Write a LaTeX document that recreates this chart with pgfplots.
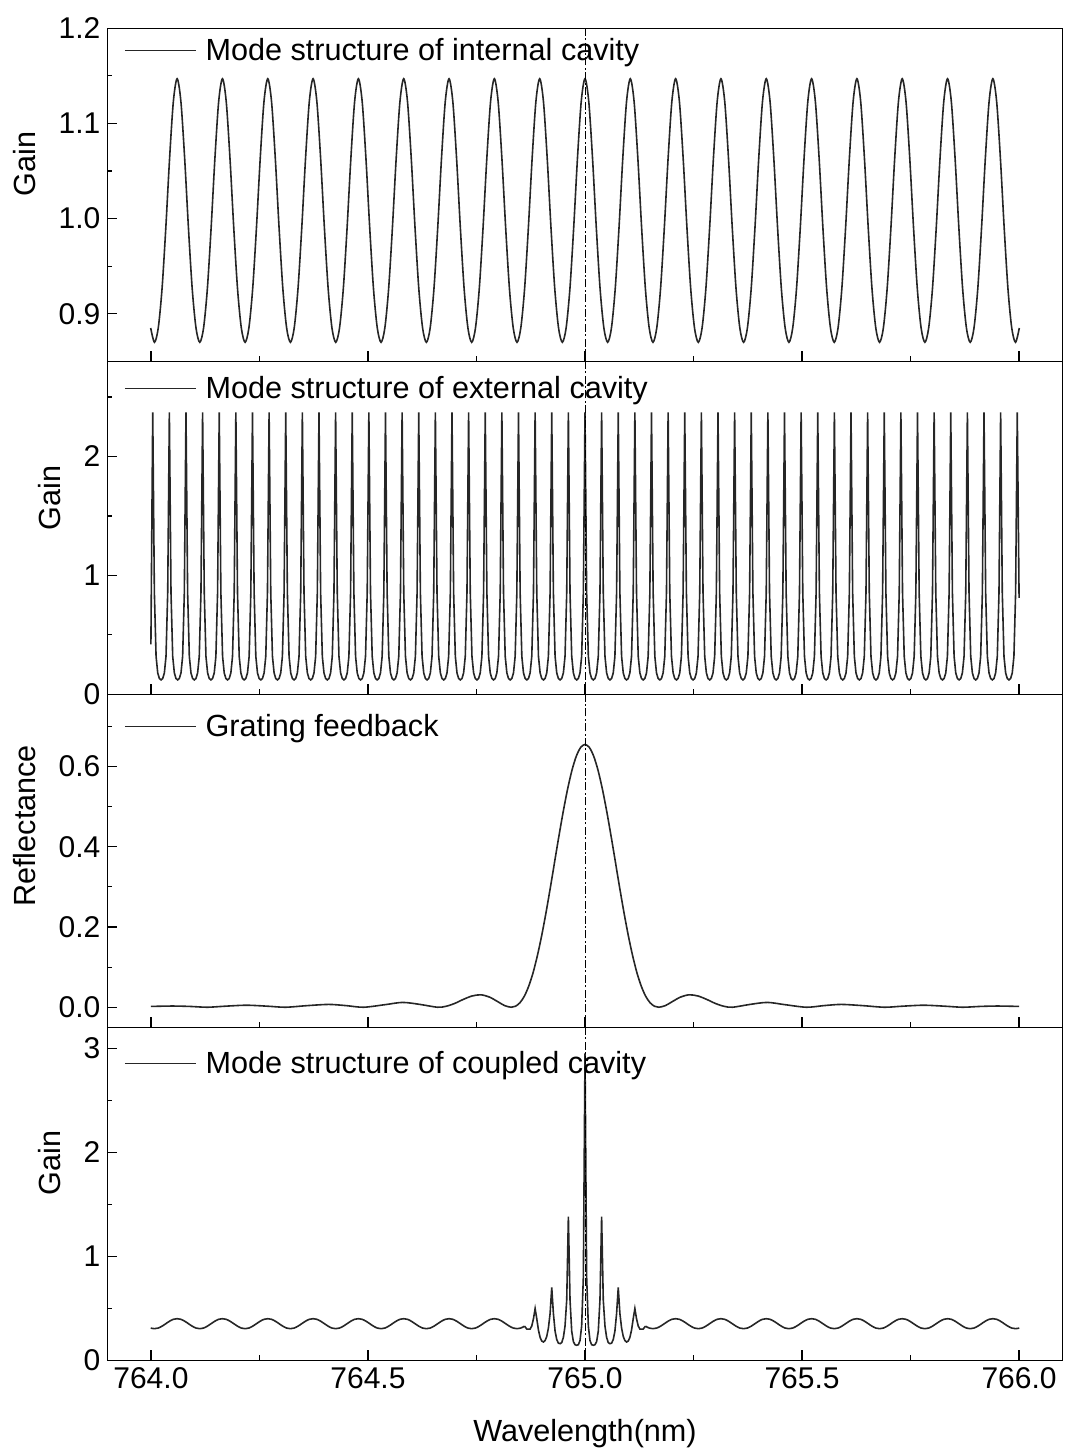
\documentclass[border=0pt]{standalone}
\usepackage{fontspec}
\setmainfont{Liberation Sans}
\usepackage{pgfplots}
\usepackage{pgfplotstable}
\pgfplotsset{compat=1.18}

% x, internal cavity gain (g1), coupled-cavity baseline (g4)
\pgfplotstableread{
x g1 g4
763.9995 0.885 0.310
764.0082 0.870 0.304
764.0169 0.885 0.310
764.0256 0.926 0.328
764.0343 0.990 0.352
764.0430 1.063 0.376
764.0517 1.123 0.394
764.0604 1.147 0.400
764.0691 1.123 0.394
764.0778 1.063 0.376
764.0865 0.990 0.352
764.0952 0.926 0.328
764.1039 0.885 0.310
764.1126 0.870 0.304
764.1213 0.885 0.310
764.1300 0.926 0.328
764.1387 0.990 0.352
764.1474 1.063 0.376
764.1561 1.123 0.394
764.1648 1.147 0.400
764.1735 1.123 0.394
764.1822 1.063 0.376
764.1909 0.990 0.352
764.1996 0.926 0.328
764.2083 0.885 0.310
764.2170 0.870 0.304
764.2257 0.885 0.310
764.2344 0.926 0.328
764.2431 0.990 0.352
764.2518 1.063 0.376
764.2605 1.123 0.394
764.2692 1.147 0.400
764.2779 1.123 0.394
764.2866 1.063 0.376
764.2953 0.990 0.352
764.3040 0.926 0.328
764.3127 0.885 0.310
764.3214 0.870 0.304
764.3301 0.885 0.310
764.3388 0.926 0.328
764.3475 0.990 0.352
764.3562 1.063 0.376
764.3649 1.123 0.394
764.3736 1.147 0.400
764.3823 1.123 0.394
764.3910 1.063 0.376
764.3997 0.990 0.352
764.4084 0.926 0.328
764.4171 0.885 0.310
764.4258 0.870 0.304
764.4345 0.885 0.310
764.4432 0.926 0.328
764.4519 0.990 0.352
764.4606 1.063 0.376
764.4693 1.123 0.394
764.4780 1.147 0.400
764.4867 1.123 0.394
764.4954 1.063 0.376
764.5041 0.990 0.352
764.5128 0.926 0.328
764.5215 0.885 0.310
764.5302 0.870 0.304
764.5389 0.885 0.310
764.5476 0.926 0.328
764.5563 0.990 0.352
764.5650 1.063 0.376
764.5737 1.123 0.394
764.5824 1.147 0.400
764.5911 1.123 0.394
764.5998 1.063 0.376
764.6085 0.990 0.352
764.6172 0.926 0.328
764.6259 0.885 0.310
764.6346 0.870 0.304
764.6433 0.885 0.310
764.6520 0.926 0.328
764.6607 0.990 0.352
764.6694 1.063 0.376
764.6781 1.123 0.394
764.6868 1.147 0.400
764.6955 1.123 0.394
764.7042 1.063 0.376
764.7129 0.990 0.352
764.7216 0.926 0.328
764.7303 0.885 0.310
764.7390 0.870 0.304
764.7477 0.885 0.310
764.7564 0.926 0.328
764.7651 0.990 0.352
764.7738 1.063 0.376
764.7825 1.123 0.394
764.7912 1.147 0.400
764.7999 1.123 0.394
764.8086 1.063 0.376
764.8173 0.990 0.352
764.8260 0.926 0.328
764.8347 0.885 0.310
764.8434 0.870 0.304
764.8521 0.885 0.310
764.8608 0.926 0.328
764.8695 0.990 0.352
764.8782 1.063 0.376
764.8869 1.123 0.394
764.8956 1.147 0.400
764.9043 1.123 0.394
764.9130 1.063 0.376
764.9217 0.990 0.352
764.9304 0.926 0.328
764.9391 0.885 0.310
764.9478 0.870 0.304
764.9565 0.885 0.310
764.9652 0.926 0.328
764.9739 0.990 0.352
764.9826 1.063 0.376
764.9913 1.123 0.394
765.0000 1.147 0.400
765.0087 1.123 0.394
765.0174 1.063 0.376
765.0261 0.990 0.352
765.0348 0.926 0.328
765.0435 0.885 0.310
765.0522 0.870 0.304
765.0609 0.885 0.310
765.0696 0.926 0.328
765.0783 0.990 0.352
765.0870 1.063 0.376
765.0957 1.123 0.394
765.1044 1.147 0.400
765.1131 1.123 0.394
765.1218 1.063 0.376
765.1305 0.990 0.352
765.1392 0.926 0.328
765.1479 0.885 0.310
765.1566 0.870 0.304
765.1653 0.885 0.310
765.1740 0.926 0.328
765.1827 0.990 0.352
765.1914 1.063 0.376
765.2001 1.123 0.394
765.2088 1.147 0.400
765.2175 1.123 0.394
765.2262 1.063 0.376
765.2349 0.990 0.352
765.2436 0.926 0.328
765.2523 0.885 0.310
765.2610 0.870 0.304
765.2697 0.885 0.310
765.2784 0.926 0.328
765.2871 0.990 0.352
765.2958 1.063 0.376
765.3045 1.123 0.394
765.3132 1.147 0.400
765.3219 1.123 0.394
765.3306 1.063 0.376
765.3393 0.990 0.352
765.3480 0.926 0.328
765.3567 0.885 0.310
765.3654 0.870 0.304
765.3741 0.885 0.310
765.3828 0.926 0.328
765.3915 0.990 0.352
765.4002 1.063 0.376
765.4089 1.123 0.394
765.4176 1.147 0.400
765.4263 1.123 0.394
765.4350 1.063 0.376
765.4437 0.990 0.352
765.4524 0.926 0.328
765.4611 0.885 0.310
765.4698 0.870 0.304
765.4785 0.885 0.310
765.4872 0.926 0.328
765.4959 0.990 0.352
765.5046 1.063 0.376
765.5133 1.123 0.394
765.5220 1.147 0.400
765.5307 1.123 0.394
765.5394 1.063 0.376
765.5481 0.990 0.352
765.5568 0.926 0.328
765.5655 0.885 0.310
765.5742 0.870 0.304
765.5829 0.885 0.310
765.5916 0.926 0.328
765.6003 0.990 0.352
765.6090 1.063 0.376
765.6177 1.123 0.394
765.6264 1.147 0.400
765.6351 1.123 0.394
765.6438 1.063 0.376
765.6525 0.990 0.352
765.6612 0.926 0.328
765.6699 0.885 0.310
765.6786 0.870 0.304
765.6873 0.885 0.310
765.6960 0.926 0.328
765.7047 0.990 0.352
765.7134 1.063 0.376
765.7221 1.123 0.394
765.7308 1.147 0.400
765.7395 1.123 0.394
765.7482 1.063 0.376
765.7569 0.990 0.352
765.7656 0.926 0.328
765.7743 0.885 0.310
765.7830 0.870 0.304
765.7917 0.885 0.310
765.8004 0.926 0.328
765.8091 0.990 0.352
765.8178 1.063 0.376
765.8265 1.123 0.394
765.8352 1.147 0.400
765.8439 1.123 0.394
765.8526 1.063 0.376
765.8613 0.990 0.352
765.8700 0.926 0.328
765.8787 0.885 0.310
765.8874 0.870 0.304
765.8961 0.885 0.310
765.9048 0.926 0.328
765.9135 0.990 0.352
765.9222 1.063 0.376
765.9309 1.123 0.394
765.9396 1.147 0.400
765.9483 1.123 0.394
765.9570 1.063 0.376
765.9657 0.990 0.352
765.9744 0.926 0.328
765.9831 0.885 0.310
765.9918 0.870 0.304
766.0005 0.885 0.310
}\tabA

\pgfplotsset{
  panel/.style={
    scale only axis, width=477.5pt, height=166.5pt,
    xmin=763.9, xmax=766.1,
    axis line style={line width=0.6pt},
    tick align=inside, tick pos=left,
    major tick length=5pt, minor tick length=2.5pt,
    tick style={black, line width=0.6pt},
    xtick={764,764.5,765,765.5,766},
    minor xtick={764.25,764.75,765.25,765.75},
    xticklabels={},
    tick label style={font=\fontsize{15}{18}\selectfont},
    label style={font=\fontsize{15.3}{18}\selectfont},
    legend style={at={(rel axis cs:0,1)}, anchor=north west, draw=none, fill=none,
      inner sep=0pt, outer sep=0pt, xshift=8.25pt,
      font=\fontsize{15.3}{18}\selectfont, nodes={inner sep=0pt},
      /tikz/every odd column/.append style={column sep=4.5pt}},
    legend image code/.code={\draw[##1] (0pt,0pt) -- (35.5pt,0pt);},
    /pgf/number format/assume math mode=true,
  },
  curve/.style={black!85, line width=0.8pt},
  vline/.style={black, line width=0.5pt, dash pattern=on 4pt off 1.2pt on 1pt off 1.2pt},
}

\begin{document}
\begin{tikzpicture}
\path[use as bounding box] (0,0) rectangle (532.5pt,-726pt);

% ---------------- Panel 1 ----------------
\begin{axis}[panel, at={(53.75pt,-14.15pt)}, anchor=north west,
  ymin=0.85, ymax=1.2, ytick={0.9,1.0,1.1,1.2}, yticklabels={0.9,1.0,1.1,1.2},
  minor ytick={0.95,1.05,1.15},
  ylabel={Gain}, ylabel style={at={(rel axis cs:-0.0864,0.592)}, anchor=center},
  legend style={yshift=-4.8pt}]
\addlegendimage{curve}
\addlegendentry{Mode structure of internal cavity}
\addplot[curve, smooth, forget plot] table[x=x, y=g1] {\tabA};
\addplot[vline, forget plot] coordinates {(765,0.85) (765,1.2)};
\end{axis}

% ---------------- Panel 2 ----------------
\begin{axis}[panel, at={(53.75pt,-180.65pt)}, anchor=north west,
  ymin=0, ymax=2.8, ytick={0,1,2}, yticklabels={0,1,2},
  minor ytick={0.5,1.5,2.5},
  ylabel={Gain}, ylabel style={at={(rel axis cs:-0.0607,0.59)}, anchor=center},
  legend style={yshift=-7.3pt}]
\addlegendimage{curve}
\addlegendentry{Mode structure of external cavity}
\addplot[curve, forget plot] coordinates {
(764.0000,0.42)
(764.0042,2.37) (764.0080,0.854) (764.0119,0.319) (764.0157,0.180) (764.0195,0.133) (764.0234,0.121) (764.0272,0.133) (764.0310,0.180) (764.0348,0.319) (764.0387,0.854)
(764.0425,2.37) (764.0463,0.854) (764.0502,0.319) (764.0540,0.180) (764.0578,0.133) (764.0617,0.121) (764.0655,0.133) (764.0693,0.180) (764.0731,0.319) (764.0770,0.854)
(764.0808,2.37) (764.0846,0.854) (764.0885,0.319) (764.0923,0.180) (764.0961,0.133) (764.1000,0.121) (764.1038,0.133) (764.1076,0.180) (764.1114,0.319) (764.1153,0.854)
(764.1191,2.37) (764.1229,0.854) (764.1268,0.319) (764.1306,0.180) (764.1344,0.133) (764.1383,0.121) (764.1421,0.133) (764.1459,0.180) (764.1497,0.319) (764.1536,0.854)
(764.1574,2.37) (764.1612,0.854) (764.1651,0.319) (764.1689,0.180) (764.1727,0.133) (764.1766,0.121) (764.1804,0.133) (764.1842,0.180) (764.1880,0.319) (764.1919,0.854)
(764.1957,2.37) (764.1995,0.854) (764.2034,0.319) (764.2072,0.180) (764.2110,0.133) (764.2149,0.121) (764.2187,0.133) (764.2225,0.180) (764.2263,0.319) (764.2302,0.854)
(764.2340,2.37) (764.2378,0.854) (764.2417,0.319) (764.2455,0.180) (764.2493,0.133) (764.2532,0.121) (764.2570,0.133) (764.2608,0.180) (764.2646,0.319) (764.2685,0.854)
(764.2723,2.37) (764.2761,0.854) (764.2800,0.319) (764.2838,0.180) (764.2876,0.133) (764.2915,0.121) (764.2953,0.133) (764.2991,0.180) (764.3029,0.319) (764.3068,0.854)
(764.3106,2.37) (764.3144,0.854) (764.3183,0.319) (764.3221,0.180) (764.3259,0.133) (764.3298,0.121) (764.3336,0.133) (764.3374,0.180) (764.3412,0.319) (764.3451,0.854)
(764.3489,2.37) (764.3527,0.854) (764.3566,0.319) (764.3604,0.180) (764.3642,0.133) (764.3681,0.121) (764.3719,0.133) (764.3757,0.180) (764.3795,0.319) (764.3834,0.854)
(764.3872,2.37) (764.3910,0.854) (764.3949,0.319) (764.3987,0.180) (764.4025,0.133) (764.4064,0.121) (764.4102,0.133) (764.4140,0.180) (764.4178,0.319) (764.4217,0.854)
(764.4255,2.37) (764.4293,0.854) (764.4332,0.319) (764.4370,0.180) (764.4408,0.133) (764.4447,0.121) (764.4485,0.133) (764.4523,0.180) (764.4561,0.319) (764.4600,0.854)
(764.4638,2.37) (764.4676,0.854) (764.4715,0.319) (764.4753,0.180) (764.4791,0.133) (764.4830,0.121) (764.4868,0.133) (764.4906,0.180) (764.4944,0.319) (764.4983,0.854)
(764.5021,2.37) (764.5059,0.854) (764.5098,0.319) (764.5136,0.180) (764.5174,0.133) (764.5213,0.121) (764.5251,0.133) (764.5289,0.180) (764.5327,0.319) (764.5366,0.854)
(764.5404,2.37) (764.5442,0.854) (764.5481,0.319) (764.5519,0.180) (764.5557,0.133) (764.5596,0.121) (764.5634,0.133) (764.5672,0.180) (764.5710,0.319) (764.5749,0.854)
(764.5787,2.37) (764.5825,0.854) (764.5864,0.319) (764.5902,0.180) (764.5940,0.133) (764.5979,0.121) (764.6017,0.133) (764.6055,0.180) (764.6093,0.319) (764.6132,0.854)
(764.6170,2.37) (764.6208,0.854) (764.6247,0.319) (764.6285,0.180) (764.6323,0.133) (764.6362,0.121) (764.6400,0.133) (764.6438,0.180) (764.6476,0.319) (764.6515,0.854)
(764.6553,2.37) (764.6591,0.854) (764.6630,0.319) (764.6668,0.180) (764.6706,0.133) (764.6745,0.121) (764.6783,0.133) (764.6821,0.180) (764.6859,0.319) (764.6898,0.854)
(764.6936,2.37) (764.6974,0.854) (764.7013,0.319) (764.7051,0.180) (764.7089,0.133) (764.7128,0.121) (764.7166,0.133) (764.7204,0.180) (764.7242,0.319) (764.7281,0.854)
(764.7319,2.37) (764.7357,0.854) (764.7396,0.319) (764.7434,0.180) (764.7472,0.133) (764.7511,0.121) (764.7549,0.133) (764.7587,0.180) (764.7625,0.319) (764.7664,0.854)
(764.7702,2.37) (764.7740,0.854) (764.7779,0.319) (764.7817,0.180) (764.7855,0.133) (764.7894,0.121) (764.7932,0.133) (764.7970,0.180) (764.8008,0.319) (764.8047,0.854)
(764.8085,2.37) (764.8123,0.854) (764.8162,0.319) (764.8200,0.180) (764.8238,0.133) (764.8277,0.121) (764.8315,0.133) (764.8353,0.180) (764.8391,0.319) (764.8430,0.854)
(764.8468,2.37) (764.8506,0.854) (764.8545,0.319) (764.8583,0.180) (764.8621,0.133) (764.8660,0.121) (764.8698,0.133) (764.8736,0.180) (764.8774,0.319) (764.8813,0.854)
(764.8851,2.37) (764.8889,0.854) (764.8928,0.319) (764.8966,0.180) (764.9004,0.133) (764.9043,0.121) (764.9081,0.133) (764.9119,0.180) (764.9157,0.319) (764.9196,0.854)
(764.9234,2.37) (764.9272,0.854) (764.9311,0.319) (764.9349,0.180) (764.9387,0.133) (764.9426,0.121) (764.9464,0.133) (764.9502,0.180) (764.9540,0.319) (764.9579,0.854)
(764.9617,2.37) (764.9655,0.854) (764.9694,0.319) (764.9732,0.180) (764.9770,0.133) (764.9809,0.121) (764.9847,0.133) (764.9885,0.180) (764.9923,0.319) (764.9962,0.854)
(765.0000,2.37) (765.0038,0.854) (765.0077,0.319) (765.0115,0.180) (765.0153,0.133) (765.0192,0.121) (765.0230,0.133) (765.0268,0.180) (765.0306,0.319) (765.0345,0.854)
(765.0383,2.37) (765.0421,0.854) (765.0460,0.319) (765.0498,0.180) (765.0536,0.133) (765.0575,0.121) (765.0613,0.133) (765.0651,0.180) (765.0689,0.319) (765.0728,0.854)
(765.0766,2.37) (765.0804,0.854) (765.0843,0.319) (765.0881,0.180) (765.0919,0.133) (765.0958,0.121) (765.0996,0.133) (765.1034,0.180) (765.1072,0.319) (765.1111,0.854)
(765.1149,2.37) (765.1187,0.854) (765.1226,0.319) (765.1264,0.180) (765.1302,0.133) (765.1341,0.121) (765.1379,0.133) (765.1417,0.180) (765.1455,0.319) (765.1494,0.854)
(765.1532,2.37) (765.1570,0.854) (765.1609,0.319) (765.1647,0.180) (765.1685,0.133) (765.1724,0.121) (765.1762,0.133) (765.1800,0.180) (765.1838,0.319) (765.1877,0.854)
(765.1915,2.37) (765.1953,0.854) (765.1992,0.319) (765.2030,0.180) (765.2068,0.133) (765.2107,0.121) (765.2145,0.133) (765.2183,0.180) (765.2221,0.319) (765.2260,0.854)
(765.2298,2.37) (765.2336,0.854) (765.2375,0.319) (765.2413,0.180) (765.2451,0.133) (765.2490,0.121) (765.2528,0.133) (765.2566,0.180) (765.2604,0.319) (765.2643,0.854)
(765.2681,2.37) (765.2719,0.854) (765.2758,0.319) (765.2796,0.180) (765.2834,0.133) (765.2873,0.121) (765.2911,0.133) (765.2949,0.180) (765.2987,0.319) (765.3026,0.854)
(765.3064,2.37) (765.3102,0.854) (765.3141,0.319) (765.3179,0.180) (765.3217,0.133) (765.3256,0.121) (765.3294,0.133) (765.3332,0.180) (765.3370,0.319) (765.3409,0.854)
(765.3447,2.37) (765.3485,0.854) (765.3524,0.319) (765.3562,0.180) (765.3600,0.133) (765.3639,0.121) (765.3677,0.133) (765.3715,0.180) (765.3753,0.319) (765.3792,0.854)
(765.3830,2.37) (765.3868,0.854) (765.3907,0.319) (765.3945,0.180) (765.3983,0.133) (765.4022,0.121) (765.4060,0.133) (765.4098,0.180) (765.4136,0.319) (765.4175,0.854)
(765.4213,2.37) (765.4251,0.854) (765.4290,0.319) (765.4328,0.180) (765.4366,0.133) (765.4405,0.121) (765.4443,0.133) (765.4481,0.180) (765.4519,0.319) (765.4558,0.854)
(765.4596,2.37) (765.4634,0.854) (765.4673,0.319) (765.4711,0.180) (765.4749,0.133) (765.4788,0.121) (765.4826,0.133) (765.4864,0.180) (765.4902,0.319) (765.4941,0.854)
(765.4979,2.37) (765.5017,0.854) (765.5056,0.319) (765.5094,0.180) (765.5132,0.133) (765.5171,0.121) (765.5209,0.133) (765.5247,0.180) (765.5285,0.319) (765.5324,0.854)
(765.5362,2.37) (765.5400,0.854) (765.5439,0.319) (765.5477,0.180) (765.5515,0.133) (765.5554,0.121) (765.5592,0.133) (765.5630,0.180) (765.5668,0.319) (765.5707,0.854)
(765.5745,2.37) (765.5783,0.854) (765.5822,0.319) (765.5860,0.180) (765.5898,0.133) (765.5937,0.121) (765.5975,0.133) (765.6013,0.180) (765.6051,0.319) (765.6090,0.854)
(765.6128,2.37) (765.6166,0.854) (765.6205,0.319) (765.6243,0.180) (765.6281,0.133) (765.6320,0.121) (765.6358,0.133) (765.6396,0.180) (765.6434,0.319) (765.6473,0.854)
(765.6511,2.37) (765.6549,0.854) (765.6588,0.319) (765.6626,0.180) (765.6664,0.133) (765.6703,0.121) (765.6741,0.133) (765.6779,0.180) (765.6817,0.319) (765.6856,0.854)
(765.6894,2.37) (765.6932,0.854) (765.6971,0.319) (765.7009,0.180) (765.7047,0.133) (765.7086,0.121) (765.7124,0.133) (765.7162,0.180) (765.7200,0.319) (765.7239,0.854)
(765.7277,2.37) (765.7315,0.854) (765.7354,0.319) (765.7392,0.180) (765.7430,0.133) (765.7469,0.121) (765.7507,0.133) (765.7545,0.180) (765.7583,0.319) (765.7622,0.854)
(765.7660,2.37) (765.7698,0.854) (765.7737,0.319) (765.7775,0.180) (765.7813,0.133) (765.7852,0.121) (765.7890,0.133) (765.7928,0.180) (765.7966,0.319) (765.8005,0.854)
(765.8043,2.37) (765.8081,0.854) (765.8120,0.319) (765.8158,0.180) (765.8196,0.133) (765.8235,0.121) (765.8273,0.133) (765.8311,0.180) (765.8349,0.319) (765.8388,0.854)
(765.8426,2.37) (765.8464,0.854) (765.8503,0.319) (765.8541,0.180) (765.8579,0.133) (765.8618,0.121) (765.8656,0.133) (765.8694,0.180) (765.8732,0.319) (765.8771,0.854)
(765.8809,2.37) (765.8847,0.854) (765.8886,0.319) (765.8924,0.180) (765.8962,0.133) (765.9001,0.121) (765.9039,0.133) (765.9077,0.180) (765.9115,0.319) (765.9154,0.854)
(765.9192,2.37) (765.9230,0.854) (765.9269,0.319) (765.9307,0.180) (765.9345,0.133) (765.9384,0.121) (765.9422,0.133) (765.9460,0.180) (765.9498,0.319) (765.9537,0.854)
(765.9575,2.37) (765.9613,0.854) (765.9652,0.319) (765.9690,0.180) (765.9728,0.133) (765.9767,0.121) (765.9805,0.133) (765.9843,0.180) (765.9881,0.319) (765.9920,0.854)
(765.9958,2.37) (766.0000,0.81)
};
\addplot[vline, forget plot] coordinates {(765,0) (765,2.8)};
\end{axis}

% ---------------- Panel 3 ----------------
\begin{axis}[panel, at={(53.75pt,-347.15pt)}, anchor=north west,
  ymin=-0.05, ymax=0.78, ytick={0,0.2,0.4,0.6}, yticklabels={0.0,0.2,0.4,0.6},
  minor ytick={0.1,0.3,0.5,0.7},
  ylabel={Reflectance}, ylabel style={at={(rel axis cs:-0.0864,0.605)}, anchor=center},
  legend style={yshift=-9.8pt}]
\addlegendimage{curve}
\addlegendentry{Grating feedback}
\addplot[curve, smooth, forget plot] coordinates {
(764.00,0.002) (764.05,0.003) (764.09,0.002) (764.13,0.0) (764.17,0.0025) (764.22,0.005) (764.27,0.0025)
(764.31,0.0) (764.36,0.004) (764.41,0.007) (764.45,0.004) (764.49,0.0) (764.54,0.0065) (764.58,0.012)
(764.62,0.007) (764.66,0.0) (764.68,0.0024) (764.70,0.0096) (764.72,0.0197) (764.74,0.0281) (764.76,0.0310)
(764.78,0.0253) (764.80,0.0133) (764.815,0.004) (764.83,0.0) (764.84,0.0025) (764.85,0.0111) (764.86,0.0270)
(764.87,0.0515) (764.88,0.0846) (764.89,0.1271) (764.90,0.1774) (764.91,0.2347) (764.92,0.2971) (764.93,0.3622)
(764.94,0.4270) (764.95,0.4886) (764.96,0.5441) (764.97,0.5908) (764.98,0.6259) (764.99,0.6476) (765.00,0.655)
(765.01,0.6476) (765.02,0.6259) (765.03,0.5908) (765.04,0.5441) (765.05,0.4886) (765.06,0.4270) (765.07,0.3622)
(765.08,0.2971) (765.09,0.2347) (765.10,0.1774) (765.11,0.1271) (765.12,0.0846) (765.13,0.0515) (765.14,0.0270)
(765.15,0.0111) (765.16,0.0025) (765.17,0.0) (765.185,0.004) (765.20,0.0133) (765.22,0.0253) (765.24,0.0310)
(765.26,0.0281) (765.28,0.0197) (765.30,0.0096) (765.32,0.0024) (765.34,0.0) (765.38,0.007) (765.42,0.012)
(765.46,0.0065) (765.51,0.0) (765.55,0.004) (765.59,0.007) (765.64,0.004) (765.69,0.0) (765.73,0.0025)
(765.78,0.005) (765.83,0.0025) (765.87,0.0) (765.91,0.002) (765.95,0.003) (766.00,0.002)
};
\addplot[vline, forget plot] coordinates {(765,-0.05) (765,0.78)};
\end{axis}

% ---------------- Panel 4 ----------------
\begin{axis}[panel, at={(53.75pt,-513.65pt)}, anchor=north west,
  ymin=0, ymax=3.2, ytick={0,1,2,3}, yticklabels={0,1,2,3},
  minor ytick={0.5,1.5,2.5},
  xticklabels={764.0,764.5,765.0,765.5,766.0},
  ylabel={Gain}, ylabel style={at={(rel axis cs:-0.0607,0.593)}, anchor=center},
  xlabel={Wavelength(nm)}, xlabel style={at={(rel axis cs:0.5,0)}, anchor=center, yshift=-36.5pt},
  legend style={yshift=-11.8pt}]
\addlegendimage{curve}
\addlegendentry{Mode structure of coupled cavity}
\addplot[curve, smooth, forget plot, restrict x to domain=763.9:764.861] table[x=x, y=g4] {\tabA};
\addplot[curve, forget plot] coordinates {
(764.8608,0.328) (764.8660,0.30) (764.8698,0.30) (764.8736,0.30) (764.8774,0.33) (764.8813,0.40)
(764.8851,0.497) (764.8889,0.40) (764.8928,0.29) (764.8966,0.22) (764.9004,0.185) (764.9043,0.176)
(764.9081,0.19) (764.9119,0.23) (764.9157,0.31) (764.9196,0.45) (764.9234,0.70) (764.9272,0.45)
(764.9311,0.28) (764.9349,0.20) (764.9387,0.165) (764.9426,0.16) (764.9464,0.17) (764.9502,0.22)
(764.9540,0.33) (764.9579,0.58) (764.9617,1.38) (764.9655,0.58) (764.9694,0.28) (764.9732,0.18)
(764.9770,0.15) (764.9809,0.145) (764.9847,0.15) (764.9885,0.19) (764.9923,0.33) (764.9962,0.80)
(765.0000,2.95)
(765.0038,0.80) (765.0077,0.33) (765.0115,0.19) (765.0153,0.15) (765.0192,0.145) (765.0230,0.15)
(765.0268,0.18) (765.0306,0.28) (765.0345,0.58) (765.0383,1.38) (765.0421,0.58) (765.0460,0.33)
(765.0498,0.22) (765.0536,0.17) (765.0575,0.16) (765.0613,0.165) (765.0651,0.20) (765.0689,0.28)
(765.0728,0.45) (765.0766,0.70) (765.0804,0.45) (765.0843,0.31) (765.0881,0.23) (765.0919,0.19)
(765.0958,0.176) (765.0996,0.185) (765.1034,0.22) (765.1072,0.29) (765.1111,0.40) (765.1149,0.497)
(765.1187,0.40) (765.1226,0.33) (765.1264,0.30) (765.1302,0.30) (765.1341,0.30) (765.1392,0.328)
};
\addplot[curve, smooth, forget plot, restrict x to domain=765.139:766.1] table[x=x, y=g4] {\tabA};
\addplot[vline, forget plot] coordinates {(765,0) (765,3.2)};
\end{axis}
\end{tikzpicture}
\end{document}
